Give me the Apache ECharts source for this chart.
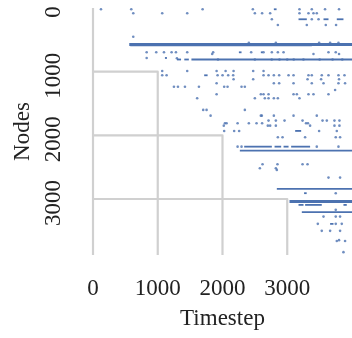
<!DOCTYPE html>
<html><head><meta charset="utf-8">
<script src="https://cdn.jsdelivr.net/npm/echarts@6/dist/echarts.min.js"></script>
<style>html,body{margin:0;padding:0;background:#fff}#c{width:352px;height:338px}</style>
</head><body><div id="c"></div>
<script>
// Axis extents and tick labels
const xMax = 4000;
const yMax = 3880;
const xTickLabels = [0, 1000, 2000, 3000];
const yTickLabels = [0, 1000, 2000, 3000];
const gridSteps = [1000, 2000, 3000];

// Long spike runs: [node, startStep, endStep]
const thickRuns = [
  [573, 560, 4000],
  [3038, 3035, 4000]
];
const thinRuns = [
  [585, 575, 3380],
  [809, 1296, 1360], [809, 1410, 1480], [809, 1520, 4000],
  [2178, 2335, 2762], [2178, 2804, 2906], [2178, 2943, 3020], [2178, 3060, 3353],
  [2240, 2268, 4000],
  [2842, 2839, 4000],
  [3093, 3174, 3251], [3093, 3276, 3533], [3093, 3868, 3919],
  [3207, 3225, 4000],
  [177, 3174, 3302], [177, 3560, 3637], [177, 3765, 3868],
  [20, 2793, 2835],
  [785, 1111, 1142],
  [696, 2253, 2294], [696, 2592, 2623],
  [1057, 1717, 1770],
  [1931, 3122, 3215],
  [3391, 3662, 3714],
  [2909, 3260, 3300]
];

// Individual spikes: [timestep, node]
const spikes = [
  [123,20],[591,20],[1693,20],[2469,20],[3189,20],[3379,20],[3584,20],[3800,20],
  [622,83],[1069,83],[1455,83],[2500,83],[2612,83],[2736,83],[3189,83],[3328,83],[3405,83],[3456,83],
  [2762,177],[3379,177],[3483,177],
  [2855,267],[3302,267],[3595,267],[3754,267],
  [622,451],
  [2407,545],[2824,545],[3492,545],[3662,545],[3791,545],
  [829,696],[977,696],[1096,696],[1214,696],[1281,696],[1455,696],[1856,696],[2443,696],[2634,696],[2762,696],[2855,696],[2943,696],[3637,696],[3749,696],
  [1841,722],[3405,722],[3800,722],
  [829,785],[1296,790],
  [1930,809],[2500,809],[2760,809],[2880,809],[3000,809],[3100,809],[3250,809],[3500,809],[3700,809],[3850,809],
  [1069,989],[1455,989],[1909,989],[2048,989],[2171,989],[2474,989],[2634,989],
  [1069,1057],[1137,1057],[1924,1057],[2001,1057],[2088,1057],[2165,1057],[2634,1057],[2711,1057],[2793,1057],[2875,1057],[3020,1057],[3097,1057],[3328,1057],[3379,1057],[3533,1057],[3637,1057],[3791,1057],[3884,1057],
  [2171,1119],[2474,1119],[3313,1119],[3523,1119],[3800,1119],
  [1909,1182],[2793,1182],[2875,1182],[3097,1182],[3379,1182],[3560,1182],[3791,1182],[3893,1182],
  [1250,1236],[1312,1236],[1420,1236],[1636,1236],[2026,1236],[2078,1236],[2294,1236],[2345,1236],
  [3739,1287],
  [1909,1355],[2592,1355],[2634,1355],[2711,1355],[3097,1355],[3148,1355],[3328,1355],[3405,1355],[3637,1355],
  [1609,1418],[2500,1418],[2654,1418],[2711,1418],[2793,1418],[2855,1418],[3189,1418],
  [1702,1601],[1754,1601],[2345,1601],
  [1816,1691],[2592,1691],[2608,1691],[2793,1691],[3097,1691],[3456,1691],
  [2711,1769],[2824,1769],[2958,1769],[3236,1769],[3545,1769],[3611,1769],[3729,1769],[3806,1769],
  [2037,1810],[2063,1810],[2233,1810],[2407,1810],[2526,1810],[2612,1810],[3290,1810],[3320,1810],
  [2020,1848],[2700,1848],[2736,1848],[2824,1848],[3353,1848],[3729,1848],[3806,1848],
  [2026,1931],[2180,1931],[2257,1931],[3492,1931],[3765,1931],
  [2855,2030],[2927,2030],[3276,2030],[3749,2030],[3816,2030],
  [2233,2178],[2294,2178],[3456,2178],[3791,2178],
  [2618,2454],[2849,2454],[3236,2454],[3313,2454],
  [2577,2517],[2824,2517],
  [2839,2543],
  [3637,2664],[3816,2664],
  [3749,2909],
  [3749,3171],
  [3560,3277],[3749,3277],[3816,3277],
  [3472,3391],[3749,3391],[3842,3391],
  [3533,3501],[3662,3501],[3816,3501],
  [3765,3660],[3800,3647],[3893,3660],
  [3868,3835]
];

const blue = '#4c72b0';
const gridGray = '#d0d0d0';
const font = 'Liberation Serif, Times New Roman, serif';
const plain = function (v) { return String(v); };

function runSeries(data, width) {
  return {
    type: 'custom',
    data: data,
    encode: { x: [1, 2], y: 0 },
    renderItem: function (params, api) {
      const y = api.value(0);
      const p1 = api.coord([api.value(1), y]);
      const p2 = api.coord([api.value(2), y]);
      return {
        type: 'line',
        shape: { x1: p1[0], y1: p1[1], x2: p2[0], y2: p2[1] },
        style: { stroke: blue, lineWidth: width }
      };
    },
    clip: true,
    silent: true,
    z: 3
  };
}

const gridSeries = [{
  type: 'line',
  data: [[0, 0], [0, yMax]],
  symbol: 'none',
  lineStyle: { color: gridGray, width: 2.2 },
  silent: true, z: 1
}].concat(gridSteps.map(function (s) {
  return {
    type: 'line',
    data: [[0, s], [s, s], [s, yMax]],
    symbol: 'none',
    lineStyle: { color: gridGray, width: 2.2, join: 'round', cap: 'butt' },
    silent: true, z: 1
  };
}));

const chart = echarts.init(document.getElementById('c'), null, { renderer: 'canvas' });
chart.setOption({
  animation: false,
  backgroundColor: '#fff',
  grid: { left: 93, right: 0, top: 8, bottom: 83, containLabel: false },
  xAxis: {
    type: 'value', min: 0, max: xMax, interval: 1000,
    name: 'Timestep', nameLocation: 'middle', nameGap: 52,
    nameTextStyle: { fontFamily: font, fontSize: 23, color: '#222' },
    axisLine: { show: false }, axisTick: { show: false }, splitLine: { show: false },
    axisLabel: { customValues: xTickLabels, formatter: plain, fontFamily: font, fontSize: 23, color: '#222', margin: 22 }
  },
  yAxis: {
    type: 'value', min: 0, max: yMax, interval: 1000, inverse: true,
    name: 'Nodes', nameLocation: 'middle', nameGap: 50, nameRotate: 90,
    nameTextStyle: { fontFamily: font, fontSize: 23, color: '#222' },
    axisLine: { show: false }, axisTick: { show: false }, splitLine: { show: false },
    axisLabel: { customValues: yTickLabels, formatter: plain, rotate: 90, padding: [0, 8, 0, 0], fontFamily: font, fontSize: 23, color: '#222', margin: 28 }
  },
  series: gridSeries.concat([
    runSeries(thickRuns, 3),
    runSeries(thinRuns, 1.8),
    {
      type: 'scatter', data: spikes, symbol: 'circle', symbolSize: 2.6,
      itemStyle: { color: blue }, silent: true, z: 4
    }
  ])
});
</script></body></html>
